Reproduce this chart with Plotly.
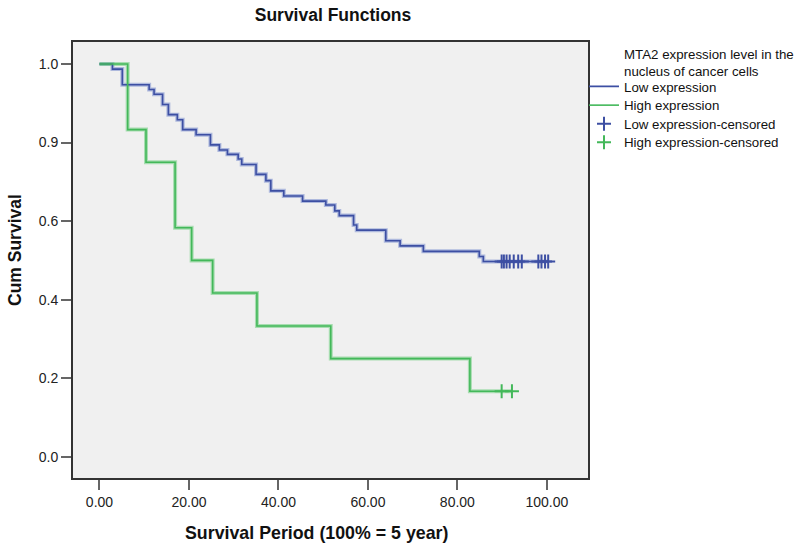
import plotly.graph_objects as go

# ---- data ----
low_times = [0, 2.9, 5.1, 11.1, 12.2, 14.1, 15.4, 17.4, 18.6, 21.6, 24.8, 26.8, 28.6,
             31.0, 31.8, 35.0, 37.2, 38.3, 41.2, 45.4, 50.6, 52.6, 53.6, 56.8, 57.5,
             64.0, 67.2, 72.4, 84.9, 85.8, 100.3]
low_surv = [1.0, 0.987, 0.947, 0.935, 0.923, 0.897, 0.871, 0.858, 0.833, 0.820, 0.794,
            0.781, 0.770, 0.758, 0.744, 0.719, 0.703, 0.677, 0.664, 0.651, 0.641, 0.626,
            0.614, 0.590, 0.577, 0.550, 0.537, 0.523, 0.510, 0.497, 0.497]
low_cens_t = [89.9, 90.4, 91.0, 91.7, 92.6, 93.6, 94.4, 98.1, 98.8, 99.6, 100.3]
low_cens_s = [0.497] * len(low_cens_t)

high_times = [0, 6.3, 10.4, 16.9, 20.6, 25.3, 35.2, 51.7, 82.8, 92.2]
high_surv = [1.0, 0.833, 0.750, 0.583, 0.500, 0.417, 0.333, 0.250, 0.167, 0.167]
high_cens_t = [89.9, 92.2]
high_cens_s = [0.167, 0.167]

y_ticks = [0.0, 0.2, 0.4, 0.6, 0.8, 1.0]
y_ticktext = ["0.0", "0.2", "0.4", "0.6", "0.9", "1.0"]
x_ticks = [0, 20, 40, 60, 80, 100]
x_ticktext = ["0.00", "20.00", "40.00", "60.00", "80.00", "100.00"]

BLUE = "#3d4fa3"
BLUE_HALO = "rgba(120,140,205,0.55)"
GREEN = "#43b85a"
GREEN_HALO = "rgba(110,205,125,0.55)"

fig = go.Figure()

# halos
fig.add_trace(go.Scatter(x=low_times, y=low_surv, mode="lines", line_shape="hv",
                         line=dict(color=BLUE_HALO, width=4), showlegend=False, hoverinfo="skip"))
fig.add_trace(go.Scatter(x=high_times, y=high_surv, mode="lines", line_shape="hv",
                         line=dict(color=GREEN_HALO, width=4), showlegend=False, hoverinfo="skip"))

fig.add_trace(go.Scatter(x=low_times, y=low_surv, mode="lines", line_shape="hv",
                         name="Low expression", line=dict(color=BLUE, width=1.6),
                         legend="legend"))
fig.add_trace(go.Scatter(x=high_times, y=high_surv, mode="lines", line_shape="hv",
                         name="High expression", line=dict(color=GREEN, width=1.6),
                         legend="legend2"))
fig.add_trace(go.Scatter(x=low_cens_t, y=low_cens_s, mode="markers",
                         name="Low expression-censored", legend="legend3",
                         marker=dict(symbol="cross-thin-open", size=10, color=BLUE,
                                     line=dict(color=BLUE, width=2))))
fig.add_trace(go.Scatter(x=high_cens_t, y=high_cens_s, mode="markers",
                         name="High expression-censored", legend="legend4",
                         marker=dict(symbol="cross-thin-open", size=10, color=GREEN,
                                     line=dict(color=GREEN, width=2))))

FONT = "Liberation Sans, Arial, sans-serif"
L, R, T, B = 73, 212, 42, 71
PW, PH = 800 - L - R, 549 - T - B


def px_x(sx):
    return (sx - L) / PW


def px_y(sy):
    return (549 - B - sy) / PH


def leg(sy):
    return dict(x=px_x(584), xanchor="left", y=px_y(sy), yanchor="middle",
                bgcolor="rgba(0,0,0,0)", font=dict(size=13.3, color="#111"),
                itemwidth=30, tracegroupgap=0)


fig.update_layout(
    width=800, height=549,
    margin=dict(l=L, r=R, t=T, b=B),
    paper_bgcolor="white",
    plot_bgcolor="#f0f0f0",
    font=dict(family=FONT, color="#222", size=14),
    title=dict(text="<b>Survival Functions</b>", x=333 / 800, xanchor="center",
               y=1 - 15 / 549, yanchor="middle", font=dict(size=17.5, color="#111")),
    showlegend=True,
    legend=leg(86.7),
    legend2=leg(105.5),
    legend3=leg(124),
    legend4=leg(142.5),
    xaxis=dict(range=[-5.92, 109.2], tickvals=x_ticks, ticktext=x_ticktext,
               showgrid=False, zeroline=False, showline=True, mirror=True,
               linecolor="#333", linewidth=2, ticks="outside", ticklen=10,
               tickwidth=2, tickcolor="#666", tickfont=dict(size=14, color="#222")),
    yaxis=dict(range=[-0.054, 1.056], tickvals=y_ticks, ticktext=y_ticktext,
               showgrid=False, zeroline=False, showline=True, mirror=True,
               linecolor="#333", linewidth=2, ticks="outside", ticklen=10,
               tickwidth=2, tickcolor="#666", tickfont=dict(size=14, color="#222")),
    annotations=[
        dict(text="<b>Survival Period (100% = 5 year)</b>", xref="paper", yref="paper",
             x=px_x(316), y=px_y(533), xanchor="center", yanchor="middle",
             showarrow=False, font=dict(size=17.8, color="#111")),
        dict(text="<b>Cum Survival</b>", xref="paper", yref="paper",
             x=px_x(15), y=px_y(250), xanchor="center", yanchor="middle",
             textangle=-90, showarrow=False, font=dict(size=17.5, color="#111")),
        dict(text="MTA2 expression level in the<br>nucleus of cancer cells",
             xref="paper", yref="paper", x=px_x(622), y=px_y(45),
             xanchor="left", yanchor="top", align="left", showarrow=False,
             font=dict(size=13.3, color="#111")),
    ],
)

fig.write_html("out.html", config={"displayModeBar": False},
               post_script="document.body.style.margin='0px';")
